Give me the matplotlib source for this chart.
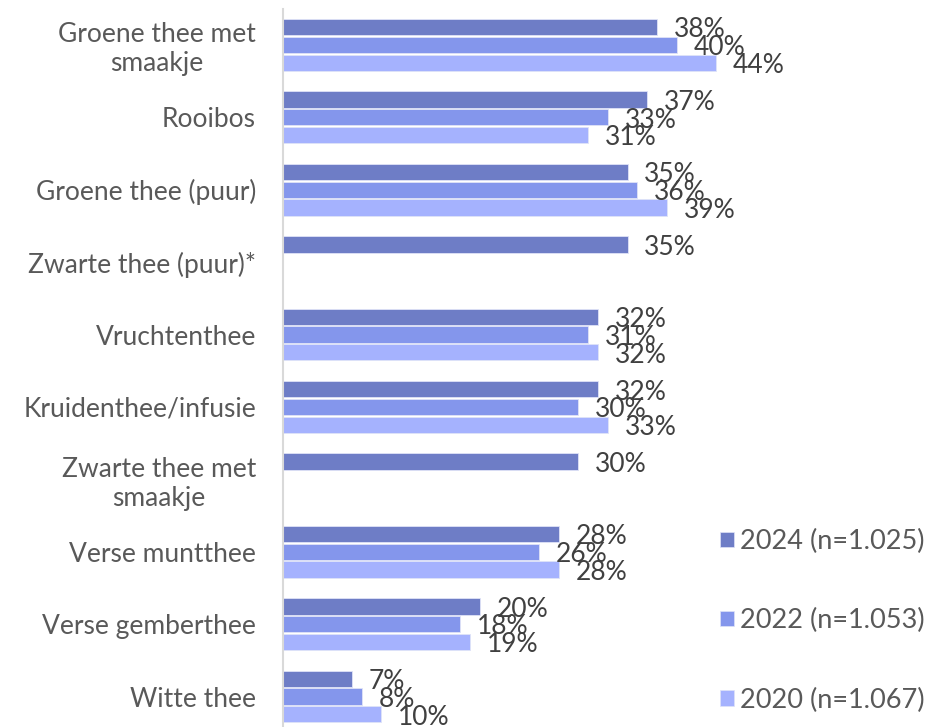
#!/usr/bin/env python3

import numpy as np
import matplotlib.pyplot as plt
from matplotlib.patches import Patch

DPI = 100

categories = ["Groene thee met\nsmaakje", "Rooibos", "Groene thee (puur)",
              "Zwarte thee (puur)*", "Vruchtenthee", "Kruidenthee/infusie",
              "Zwarte thee met\nsmaakje", "Verse muntthee", "Verse gemberthee",
              "Witte thee"]
series_names = ["2024 (n=1.025)", "2022 (n=1.053)", "2020 (n=1.067)"]
values_2024 = [38, 37, 35, 35, 32, 32, 30, 28, 20, 7]
values_2022 = [40, 33, 36, None, 31, 30, None, 26, 18, 8]
values_2020 = [44, 31, 39, None, 32, 33, None, 28, 19, 10]
colors = ["#6e7dc6", "#8496ec", "#a5b2fe"]

plt.rcParams['font.family'] = ['Lato', 'DejaVu Sans']

fig = plt.figure(figsize=(931 / DPI, 727 / DPI), dpi=DPI)
ax = fig.add_axes([283 / 931, -0.008, 443 / 931, 0.996])

n = len(categories)
ypos = np.arange(n)
bar_h = 0.245
series = [values_2024, values_2022, values_2020]
for s, (vals, col) in enumerate(zip(series, colors)):
    for i, v in enumerate(vals):
        if v is None:
            continue
        y = ypos[i] + (s - 1) * bar_h
        ax.barh(y, v, height=bar_h - 0.02, color=col, edgecolor='#dfe3f7', linewidth=0.6)
        ax.annotate(f"{v}%", (v, y), xytext=(12, -2), textcoords='offset points',
                    ha='left', va='center', fontsize=19, color='#404040')

ax.set_ylim(n - 0.5, -0.5)
ax.set_xlim(0, 45)
ax.set_yticks(ypos)
ax.set_yticklabels(categories, fontsize=19, color='#595959', multialignment='center')
ax.tick_params(axis='y', length=0, pad=19.5)
ax.set_xticks([])
for side in ['top', 'right', 'bottom']:
    ax.spines[side].set_visible(False)
ax.spines['left'].set_color('#d9d9d9')
ax.spines['left'].set_linewidth(1.5)

handles = [Patch(facecolor=c, edgecolor='#dfe3f7', linewidth=0.5) for c in colors]
fig.legend(handles, series_names, loc='upper left', bbox_to_anchor=(720 / 931, 1 - 529 / 727),
           frameon=False, fontsize=19.5, labelcolor='#595959', handlelength=0.5,
           handleheight=0.5, handletextpad=0.25, labelspacing=2.0, borderaxespad=0,
           borderpad=0)

fig.savefig("out.png", dpi=DPI)
